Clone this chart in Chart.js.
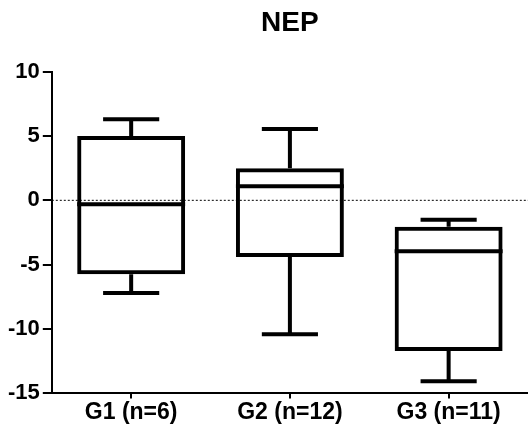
<!DOCTYPE html>
<html>
<head>
<meta charset="utf-8">
<script src="https://cdn.jsdelivr.net/npm/chart.js@4/dist/chart.umd.min.js"></script>
<style>
  body { margin: 0; background: #fff; }
</style>
</head>
<body>
<canvas id="nep" width="528" height="426"></canvas>
<script>
// box plot values
var groups = ["G1 (n=6)", "G2 (n=12)", "G3 (n=11)"];
var whiskerLow = [-7.2, -10.4, -14.05];
var q1 = [-5.75, -4.4, -11.7];
var median = [-0.3, 1.1, -3.95];
var q3 = [5.0, 2.5, -2.05];
var whiskerHigh = [6.3, 5.55, -1.5];
var yTicks = [-15, -10, -5, 0, 5, 10];

var boxes = [];
for (var i = 0; i < groups.length; i++) {
    boxes.push([q1[i], q3[i]]);
}

// whiskers, medians and the dotted zero line
var boxExtras = {
    id: 'boxExtras',
    afterDatasetsDraw: function (chart) {
        var ctx = chart.ctx;
        var xs = chart.scales.x;
        var ys = chart.scales.y;
        var area = chart.chartArea;
        var meta = chart.getDatasetMeta(0);

        ctx.save();
        ctx.strokeStyle = '#000';
        ctx.lineCap = 'butt';

        // zero line
        ctx.lineWidth = 1;
        ctx.setLineDash([2, 2]);
        ctx.beginPath();
        ctx.moveTo(area.left, ys.getPixelForValue(0));
        ctx.lineTo(area.right, ys.getPixelForValue(0));
        ctx.stroke();
        ctx.setLineDash([]);

        ctx.lineWidth = 4;
        for (var i = 0; i < groups.length; i++) {
            var x = xs.getPixelForValue(i);
            var half = meta.data[i].width / 2;
            var cap = half * 0.52;

            // median
            ctx.beginPath();
            ctx.moveTo(x - half, ys.getPixelForValue(median[i]));
            ctx.lineTo(x + half, ys.getPixelForValue(median[i]));
            ctx.stroke();

            // upper whisker
            ctx.beginPath();
            ctx.moveTo(x, ys.getPixelForValue(q3[i]));
            ctx.lineTo(x, ys.getPixelForValue(whiskerHigh[i]));
            ctx.moveTo(x - cap, ys.getPixelForValue(whiskerHigh[i]));
            ctx.lineTo(x + cap, ys.getPixelForValue(whiskerHigh[i]));
            ctx.stroke();

            // lower whisker
            ctx.beginPath();
            ctx.moveTo(x, ys.getPixelForValue(q1[i]));
            ctx.lineTo(x, ys.getPixelForValue(whiskerLow[i]));
            ctx.moveTo(x - cap, ys.getPixelForValue(whiskerLow[i]));
            ctx.lineTo(x + cap, ys.getPixelForValue(whiskerLow[i]));
            ctx.stroke();
        }
        ctx.restore();
    }
};

var fontFamily = '"Liberation Sans", Arial, sans-serif';

new Chart(document.getElementById('nep'), {
    type: 'bar',
    data: {
        labels: groups,
        datasets: [{
            data: boxes,
            backgroundColor: 'rgba(255,255,255,0)',
            borderColor: '#000',
            borderWidth: 4,
            borderSkipped: false,
            barPercentage: 0.68,
            categoryPercentage: 1
        }]
    },
    options: {
        responsive: false,
        animation: false,
        layout: {
            padding: { left: 5, right: 0, top: 6, bottom: 0 }
        },
        plugins: {
            legend: { display: false },
            tooltip: { enabled: false },
            title: {
                display: true,
                text: 'NEP',
                fullSize: false,
                color: '#000',
                font: { family: fontFamily, size: 28, weight: 'bold' },
                padding: { top: 0, bottom: 32 }
            }
        },
        scales: {
            x: {
                grid: {
                    offset: false,
                    drawOnChartArea: false,
                    color: '#000',
                    lineWidth: 2,
                    tickLength: 5
                },
                border: { color: '#000', width: 2 },
                ticks: {
                    color: '#000',
                    padding: 0,
                    font: { family: fontFamily, size: 23, weight: 'bold' }
                }
            },
            y: {
                min: -15,
                max: 10,
                afterBuildTicks: function (axis) {
                    axis.ticks = yTicks.map(function (v) { return { value: v }; });
                },
                grid: {
                    drawOnChartArea: false,
                    color: '#000',
                    lineWidth: 2,
                    tickLength: 9
                },
                border: { color: '#000', width: 2 },
                ticks: {
                    color: '#000',
                    padding: 3,
                    font: { family: fontFamily, size: 22, weight: 'bold' }
                }
            }
        }
    },
    plugins: [boxExtras]
});
</script>
</body>
</html>
